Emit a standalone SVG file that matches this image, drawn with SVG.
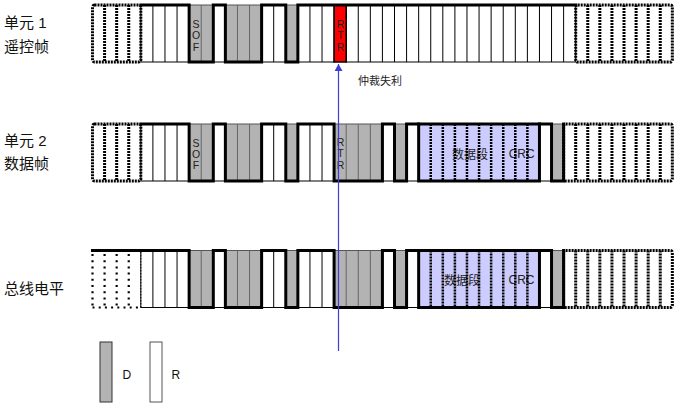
<svg xmlns="http://www.w3.org/2000/svg" width="682" height="407" viewBox="0 0 682 407">
<defs>
<style>
.w{fill:#fff;stroke:#000;stroke-width:1}
.g{fill:#b3b3b3;stroke:#555;stroke-width:1}
.r{fill:#ff0000;stroke:#000;stroke-width:1.5}
.lv{fill:#ccccff}
.lvb{fill:none;stroke:#000;stroke-width:3}
.dv{fill:none;stroke:#000;stroke-width:1}
.gdv{fill:none;stroke:#666;stroke-width:1}
.wave{fill:none;stroke:#000;stroke-width:3;stroke-linejoin:miter;stroke-linecap:square}
.dot{fill:none;stroke:#000;stroke-width:3;stroke-dasharray:2 1}
.ld{fill:none;stroke:#000;stroke-width:2.5;stroke-dasharray:2 1}
.dots{fill:none;stroke:#000;stroke-width:2.2;stroke-dasharray:2 4.2}
.thd{fill:none;stroke:#000;stroke-width:1;stroke-dasharray:1.5 1.5}
.lab{font-family:"Liberation Sans","Noto Sans CJK SC",sans-serif;font-size:15px;fill:#111}
.bit{font-family:"Liberation Sans",sans-serif;font-size:10.5px;fill:#222;text-anchor:middle}
.seg{font-family:"Liberation Sans","Noto Sans CJK SC",sans-serif;font-size:12px;fill:#222;text-anchor:middle}
.sm{font-family:"Liberation Sans","Noto Sans CJK SC",sans-serif;font-size:11px;fill:#222}
.lg{font-family:"Liberation Sans",sans-serif;font-size:12px;fill:#111}
</style>
<marker id="ah" viewBox="0 0 10 10" refX="10" refY="5" markerWidth="7" markerHeight="8" markerUnits="userSpaceOnUse" orient="auto" preserveAspectRatio="none">
<path d="M0 0L10 5L0 10z" fill="#3c3cd8"/>
</marker>
</defs>
<rect width="682" height="407" fill="#fff"/>

<!-- Labels -->
<g id="labels">
<text class="lab" x="4" y="27.5">单元 1</text>
<text class="lab" x="4" y="51.5">遥控帧</text>
<text class="lab" x="4" y="145.5">单元 2</text>
<text class="lab" x="4" y="168.5">数据帧</text>
<text class="lab" x="4" y="293.5">总线电平</text>
</g>

<!-- Row 1: remote frame -->
<g id="row1">
<rect class="w" x="140.82" y="5" width="48.32" height="57"/>
<rect class="g" x="189.14" y="5" width="24.16" height="57"/>
<rect class="w" x="213.30" y="5" width="12.08" height="57"/>
<rect class="g" x="225.38" y="5" width="36.24" height="57"/>
<rect class="w" x="261.62" y="5" width="24.16" height="57"/>
<rect class="g" x="285.78" y="5" width="12.08" height="57"/>
<rect class="w" x="297.86" y="5" width="36.24" height="57"/>
<rect class="w" x="346.18" y="5" width="229.52" height="57"/>
<path class="dv" d="M152.90 5V62M164.98 5V62M177.06 5V62M273.70 5V62M309.94 5V62M322.02 5V62M358.26 5V62M370.34 5V62M382.42 5V62M394.50 5V62M406.58 5V62M418.66 5V62M430.74 5V62M442.82 5V62M454.90 5V62M466.98 5V62M479.06 5V62M491.14 5V62M503.22 5V62M515.30 5V62M527.38 5V62M539.46 5V62M551.54 5V62M563.62 5V62"/>
<path class="gdv" d="M201.22 5V62M237.46 5V62M249.54 5V62"/>
<rect class="r" x="334.10" y="5" width="12.08" height="57"/>
<path class="wave" d="M140.82 5H189.14V62H213.30V5H225.38V62H261.62V5H285.78V62H297.86V5H575.70"/>
<rect class="dot" x="92.5" y="5" width="48.32" height="57" rx="2"/>
<path class="dot" d="M104.58 5V62M116.66 5V62M128.74 5V62"/>
<rect class="dot" x="575.70" y="5" width="96.64" height="57" rx="2"/>
<path class="dot" d="M587.78 5V62M599.86 5V62M611.94 5V62M624.02 5V62M636.10 5V62M648.18 5V62M660.26 5V62"/>
<text class="bit" x="196" y="28.3">S</text>
<text class="bit" x="196" y="39.3">O</text>
<text class="bit" x="196" y="50.6">F</text>
<text class="bit" x="340.5" y="28.3">R</text>
<text class="bit" x="340.5" y="39.3">T</text>
<text class="bit" x="340.5" y="50.6">R</text>
</g>

<!-- Row 2: data frame -->
<g id="row2">
<rect class="w" x="140.82" y="124" width="48.32" height="57"/>
<rect class="g" x="189.14" y="124" width="24.16" height="57"/>
<rect class="w" x="213.30" y="124" width="12.08" height="57"/>
<rect class="g" x="225.38" y="124" width="36.24" height="57"/>
<rect class="w" x="261.62" y="124" width="24.16" height="57"/>
<rect class="g" x="285.78" y="124" width="12.08" height="57"/>
<rect class="w" x="297.86" y="124" width="36.24" height="57"/>
<rect class="g" x="334.10" y="124" width="48.32" height="57"/>
<rect class="w" x="382.42" y="124" width="12.08" height="57"/>
<rect class="g" x="394.50" y="124" width="12.08" height="57"/>
<rect class="w" x="406.58" y="124" width="12.08" height="57"/>
<rect class="lv" x="418.66" y="124" width="120.8" height="57"/>
<rect class="w" x="539.46" y="124" width="12.08" height="57"/>
<rect class="g" x="551.54" y="124" width="12.08" height="57"/>
<path class="dv" d="M152.90 124V181M164.98 124V181M177.06 124V181M273.70 124V181M309.94 124V181M322.02 124V181"/>
<path class="gdv" d="M201.22 124V181M237.46 124V181M249.54 124V181M346.18 124V181M358.26 124V181M370.34 124V181"/>
<text class="seg" x="470" y="158.5">数据段</text>
<text class="seg" x="521.7" y="158.3">CRC</text>
<path class="ld" d="M430.74 124V181M442.82 124V181M454.90 124V181M466.98 124V181M479.06 124V181M491.14 124V181M503.22 124V181M515.30 124V181M527.38 124V181"/>
<rect class="lvb" x="418.66" y="124" width="120.8" height="57"/>
<path class="wave" d="M140.82 124H189.14V181H213.30V124H225.38V181H261.62V124H285.78V181H297.86V124H334.10V181H382.42V124H394.50V181H406.58V124H418.66"/>
<path class="wave" d="M539.46 124H551.54V181H563.62V124"/>
<rect class="dot" x="92.5" y="124" width="48.32" height="57" rx="2"/>
<path class="dot" d="M104.58 124V181M116.66 124V181M128.74 124V181"/>
<rect class="dot" x="563.62" y="124" width="108.72" height="57" rx="2"/>
<path class="dot" d="M575.70 124V181M587.78 124V181M599.86 124V181M611.94 124V181M624.02 124V181M636.10 124V181M648.18 124V181M660.26 124V181"/>
<text class="bit" x="196" y="146.8">S</text>
<text class="bit" x="196" y="157.8">O</text>
<text class="bit" x="196" y="169.1">F</text>
<text class="bit" x="340.5" y="146.3">R</text>
<text class="bit" x="340.5" y="157.3">T</text>
<text class="bit" x="340.5" y="168.9">R</text>
</g>

<!-- Row 3: bus level -->
<g id="row3">
<rect class="w" x="140.82" y="250.5" width="48.32" height="57"/>
<rect class="g" x="189.14" y="250.5" width="24.16" height="57"/>
<rect class="w" x="213.30" y="250.5" width="12.08" height="57"/>
<rect class="g" x="225.38" y="250.5" width="36.24" height="57"/>
<rect class="w" x="261.62" y="250.5" width="24.16" height="57"/>
<rect class="g" x="285.78" y="250.5" width="12.08" height="57"/>
<rect class="w" x="297.86" y="250.5" width="36.24" height="57"/>
<rect class="g" x="334.10" y="250.5" width="48.32" height="57"/>
<rect class="w" x="382.42" y="250.5" width="12.08" height="57"/>
<rect class="g" x="394.50" y="250.5" width="12.08" height="57"/>
<rect class="w" x="406.58" y="250.5" width="12.08" height="57"/>
<rect class="lv" x="418.66" y="250.5" width="120.8" height="57"/>
<rect class="w" x="539.46" y="250.5" width="12.08" height="57"/>
<rect class="g" x="551.54" y="250.5" width="12.08" height="57"/>
<path class="dv" d="M152.90 250.5V307.5M164.98 250.5V307.5M177.06 250.5V307.5M273.70 250.5V307.5M309.94 250.5V307.5M322.02 250.5V307.5"/>
<path class="gdv" d="M201.22 250.5V307.5M237.46 250.5V307.5M249.54 250.5V307.5M346.18 250.5V307.5M358.26 250.5V307.5M370.34 250.5V307.5"/>
<text class="seg" x="462" y="284.5">数据段</text>
<text class="seg" x="521.5" y="284.3">CRC</text>
<path class="ld" d="M430.74 250.5V307.5M442.82 250.5V307.5M454.90 250.5V307.5M466.98 250.5V307.5M479.06 250.5V307.5M491.14 250.5V307.5M503.22 250.5V307.5M515.30 250.5V307.5M527.38 250.5V307.5"/>
<rect class="lvb" x="418.66" y="250.5" width="120.8" height="57"/>
<path class="wave" d="M92.5 250.5H189.14V307.5H213.30V250.5H225.38V307.5H261.62V250.5H285.78V307.5H297.86V250.5H334.10V307.5H382.42V250.5H394.50V307.5H406.58V250.5H418.66"/>
<path class="wave" d="M539.46 250.5H551.54V307.5H563.62V250.5"/>
<path class="dots" d="M92.5 254V307.5M104.58 254V307.5M116.66 254V307.5M128.74 254V307.5M92.5 307.5H140.82"/>
<path class="thd" d="M140.82 252V307.5"/>
<rect class="dot" x="563.62" y="250.5" width="108.72" height="57" rx="2"/>
<path class="dot" d="M575.70 250.5V307.5M587.78 250.5V307.5M599.86 250.5V307.5M611.94 250.5V307.5M624.02 250.5V307.5M636.10 250.5V307.5M648.18 250.5V307.5M660.26 250.5V307.5"/>
</g>

<!-- Connector: arbitration lost arrow -->
<g id="connectors">
<line x1="338.5" y1="351" x2="338.5" y2="64" stroke="#3c3cd8" stroke-width="1.2" marker-end="url(#ah)"/>
<text class="sm" x="358" y="85">仲裁失利</text>
</g>

<!-- Legend -->
<g id="legend-d">
<rect x="100" y="342" width="12" height="60" fill="#b3b3b3" stroke="#333" stroke-width="1"/>
<text class="lg" x="122.5" y="378.5">D</text>
</g>
<g id="legend-r">
<rect x="150" y="342" width="12" height="60" fill="#fff" stroke="#555" stroke-width="1"/>
<text class="lg" x="171.5" y="378.5">R</text>
</g>
</svg>
